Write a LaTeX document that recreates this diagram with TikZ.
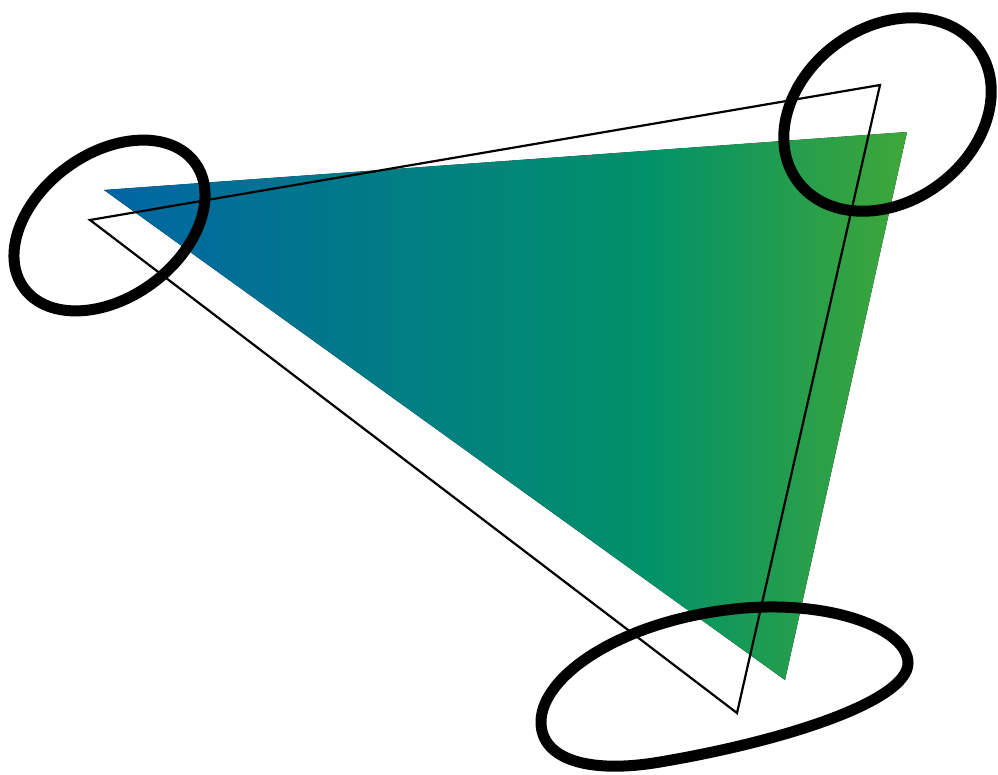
\documentclass[tikz,border=0pt]{standalone}
\definecolor{cA}{RGB}{0,101,164}
\definecolor{cB}{RGB}{2,146,104}
\definecolor{cC}{RGB}{63,167,56}
\pgfdeclarehorizontalshading{trishade}{100bp}{color(0bp)=(cA); color(25bp)=(cA); color(59bp)=(cB); color(75bp)=(cC); color(100bp)=(cC)}
\tikzset{
  loop/.style={draw=black, line width=11pt},
  outline/.style={draw=black, line width=2.2pt}
}
\begin{document}
\begin{tikzpicture}[x=1pt,y=-1pt]
\useasboundingbox (0,0) rectangle (998,774);
% gradient triangle
\fill[shading=trishade] (104,190) -- (907,132) -- (785,680) -- cycle;
% outline triangle
\draw[outline] (90,220) -- (880,85) -- (737,713) -- cycle;
% loops
\draw[loop, rotate around={36.2:(109.5,225.5)}] (109.5,225.5) ellipse [x radius=106, y radius=72];
\draw[loop, rotate around={36.8:(887.5,114.5)}] (887.5,114.5) ellipse [x radius=112, y radius=87];
\draw[loop] (541,722) .. controls (541,675) and (625,618) .. (745,608)
  .. controls (835,601) and (908,630) .. (908,663)
  .. controls (908,700) and (790,740) .. (660,762)
  .. controls (590,774) and (541,760) .. cycle;
\end{tikzpicture}
\end{document}
